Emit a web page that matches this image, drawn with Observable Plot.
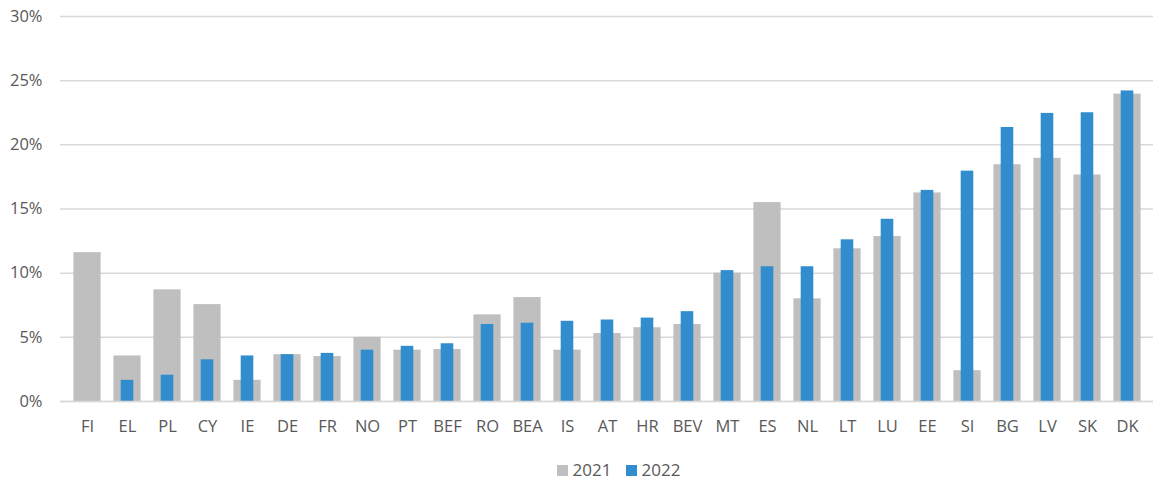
<!DOCTYPE html>
<html>
<head>
<meta charset="utf-8">
<script src="https://cdn.jsdelivr.net/npm/d3@7"></script>
<script src="https://cdn.jsdelivr.net/npm/@observablehq/plot@0.6"></script>
<style>
  body { margin: 0; background: #fff; font-family: "Open Sans", sans-serif; }
  #legend { display: flex; justify-content: center; gap: 14px; font-size: 17px; line-height: 20px; color: #595959; padding-top: 10px; padding-left: 84px; }
  #legend span.item { display: flex; align-items: center; gap: 5px; }
  #legend span.sw { width: 11px; height: 11px; display: inline-block; }
</style>
</head>
<body>
<div id="chart"></div>
<div id="legend"></div>
<script>
const categories = ["FI","EL","PL","CY","IE","DE","FR","NO","PT","BEF","RO","BEA","IS","AT","HR","BEV","MT","ES","NL","LT","LU","EE","SI","BG","LV","SK","DK"];
const values2021 = [11.6,3.55,8.7,7.55,1.65,3.65,3.5,5.0,4.0,4.05,6.75,8.1,4.0,5.3,5.75,6.0,10.0,15.5,8.0,11.9,12.85,16.25,2.4,18.45,18.95,17.65,23.95];
const values2022 = [null,1.65,2.05,3.25,3.55,3.65,3.75,4.0,4.3,4.5,6.0,6.1,6.25,6.35,6.5,7.0,10.2,10.5,10.5,12.6,14.2,16.45,17.95,21.35,22.45,22.5,24.2];
const seriesNames = ["2021","2022"];
const seriesColors = ["#bfbfbf","#318dcd"];
const yTicks = [0,5,10,15,20,25,30];

const d2021 = categories.map((c,i)=>({cat:c, v: values2021[i]/100}));
const d2022 = categories.map((c,i)=>({cat:c, v: values2022[i]==null?null:values2022[i]/100})).filter(d=>d.v!=null);

const chart = Plot.plot({
  width: 1153,
  height: 450,
  marginLeft: 60,
  marginRight: 0,
  marginTop: 16,
  marginBottom: 49,
  style: {fontFamily: "'Open Sans', sans-serif", fontSize: "16.5px", color: "#595959", background: "#fff"},
  x: {domain: categories, padding: 0, label: null, tickSize: 0, tickPadding: 19},
  y: {domain: [0, 0.30], ticks: yTicks.map(t=>t/100), tickFormat: d => Math.round(d*100) + "%", label: null, tickSize: 0, tickPadding: 18},
  marks: [
    Plot.gridY(yTicks.map(t=>t/100), {stroke: "#d9d9d9", strokeOpacity: 1, strokeWidth: 1.5}),
    Plot.barY(d2021, {x: "cat", y: "v", fill: seriesColors[0], insetLeft: 6.4, insetRight: 6.4}),
    Plot.barY(d2022, {x: "cat", y: "v", fill: seriesColors[1], insetLeft: 13.7, insetRight: 13.7}),
    Plot.ruleY([0], {stroke: "#d9d9d9", strokeWidth: 1.5})
  ]
});
document.getElementById("chart").appendChild(chart);

const lg = document.getElementById("legend");
seriesNames.forEach((n,i)=>{
  const it = document.createElement("span"); it.className="item";
  const sw = document.createElement("span"); sw.className="sw"; sw.style.background = seriesColors[i];
  it.appendChild(sw); it.appendChild(document.createTextNode(n));
  lg.appendChild(it);
});
</script>
</body>
</html>
